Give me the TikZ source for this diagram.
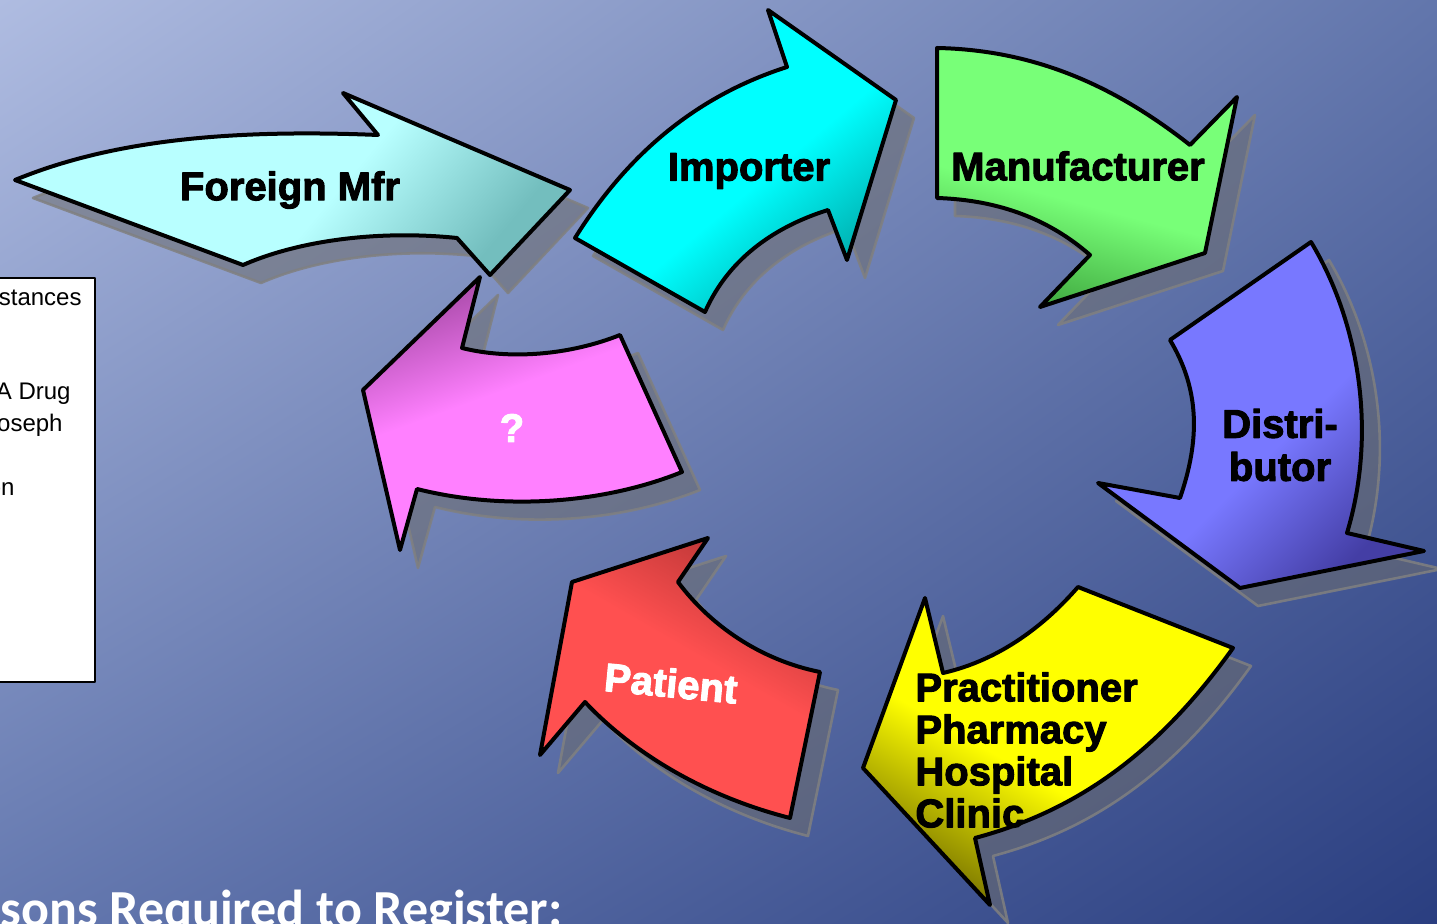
\documentclass[tikz,border=0pt]{standalone}
\usepackage{fontspec}
\setmainfont{Liberation Sans}[BoldFeatures={FakeBold=2.5}]
\newfontfamily\calfont{Carlito}
\usetikzlibrary{shadings}
\definecolor{bgUL}{RGB}{175,188,225}
\definecolor{bgUR}{RGB}{98,118,172}
\definecolor{bgLL}{RGB}{100,120,175}
\definecolor{bgLR}{RGB}{42,62,128}
\definecolor{cLight}{RGB}{255,255,255}
\definecolor{cDark}{RGB}{0,0,0}
\pgfdeclareverticalshading[cLight,cDark]{arrshade}{100bp}{color(0bp)=(cDark); color(25bp)=(cDark); color(45bp)=(cLight); color(100bp)=(cLight)}
\begin{document}
\begin{tikzpicture}[x=0.5pt,y=-0.5pt,line join=round]
\tikzset{
  shadowsty/.style={fill=gray!85!black,fill opacity=0.55,draw=gray,draw opacity=0.85,line width=1.3pt,shift={(18,18)}},
  arrowsty/.style={draw=black,line width=2pt,shading=arrshade},
  lbl/.style={font=\fontsize{20}{21.5}\selectfont\bfseries,inner sep=0pt,text=black},
  boxtxt/.style={font=\fontsize{12}{14}\selectfont,inner sep=0pt,anchor=east,text=black}
}
\newcommand\arrcol[2]{\definecolor{cLight}{RGB}{#1}\definecolor{cDark}{RGB}{#2}}
\newcommand\arrFM[1]{\path[#1] (15,180) .. controls (100,145) and (210,128) .. (378,135) -- (343,93) -- (570,190) -- (490,275) -- (457,238) .. controls (380,230) and (300,240) .. (243,265) -- cycle;}
\newcommand\arrIM[1]{\path[#1] (575,238) .. controls (630,150) and (700,95) .. (787,67) -- (768,10) -- (896,100) -- (847,260) -- (828,210) .. controls (780,225) and (730,255) .. (705,312) -- cycle;}
\newcommand\arrMA[1]{\path[#1] (937,48) .. controls (1040,50) and (1120,90) .. (1190,145) -- (1237,97) -- (1205,253) -- (1040,307) -- (1090,255) .. controls (1050,220) and (1000,200) .. (937,198) -- cycle;}
\newcommand\arrDI[1]{\path[#1] (1311,242) .. controls (1358,320) and (1378,430) .. (1347,533) -- (1424,551) -- (1240,588) -- (1098,483) -- (1180,498) .. controls (1200,440) and (1200,390) .. (1170,340) -- cycle;}
\newcommand\arrPR[1]{\path[#1] (1233,648) .. controls (1160,750) and (1080,810) .. (975,838) -- (990,905) -- (863,768) -- (925,598) -- (943,673) .. controls (1000,660) and (1045,625) .. (1078,587) -- cycle;}
\newcommand\arrPA[1]{\path[#1] (820,672) -- (790,818) .. controls (700,795) and (630,750) .. (585,702) -- (540,755) -- (572,582) -- (708,538) -- (678,582) .. controls (710,625) and (760,660) .. (820,672) -- cycle;}
\newcommand\arrQU[1]{\path[#1] (620,335) .. controls (570,355) and (510,360) .. (462,348) -- (480,277) -- (363,390) -- (400,550) -- (417,489) .. controls (500,510) and (600,505) .. (682,472) -- cycle;}
% background
\shade[upper left=bgUL,upper right=bgUR,lower left=bgLL,lower right=bgLR]
  (0,0) rectangle (1437,924);
\useasboundingbox (0,0) rectangle (1437,924);
% left box
\draw[fill=white,line width=1pt] (-10,278) rectangle (95,682);
\node[boxtxt] (b1) at (82,298) {stances};
\node[boxtxt] (b2) at (71,394) {A Drug};
\node[boxtxt] (b3) at (63,425) {oseph};
\node[boxtxt] (b4) at (15,489) {on};
% shadows
\arrFM{shadowsty}
\arrIM{shadowsty}
\arrMA{shadowsty}
\arrDI{shadowsty}
\arrPR{shadowsty}
\arrPA{shadowsty}
\arrQU{shadowsty}
% arrows
\arrcol{184,255,255}{115,190,190}
\arrFM{arrowsty,shading angle=50}
\arrcol{0,255,255}{0,170,170}
\arrIM{arrowsty,shading angle=40}
\arrcol{120,255,120}{65,170,65}
\arrMA{arrowsty,shading angle=-15}
\arrcol{120,120,255}{68,62,165}
\arrDI{arrowsty,shading angle=45}
\arrcol{255,255,0}{125,120,0}
\arrPR{arrowsty,shading angle=-30}
\arrcol{255,80,80}{190,55,55}
\arrPA{arrowsty,shading angle=150}
\arrcol{255,128,255}{170,75,170}
\arrQU{arrowsty,shading angle=-160}
% labels
\node[lbl] (fm) at (290,190) {Foreign Mfr};
\node[lbl] (im) at (749,171) {Importer};
\node[lbl] (ma) at (1078,166) {Manufacturer};
\node[lbl,align=center] (di) at (1280,445) {Distri-\\butor};
\node[lbl,align=left,anchor=west,font=\fontsize{20}{21}\selectfont\bfseries] (pr) at (915,750) {Practitioner\\Pharmacy\\Hospital\\Clinic};
\node[lbl,text=white,rotate=-5.5] (pa) at (671,683) {Patient};
\node[lbl,text=white] (qu) at (512,428) {?};
\node[font=\calfont\bfseries\fontsize{26}{28}\selectfont,text=white,anchor=base west,inner sep=0pt] (req) at (0,927) {sons Required to Register:};
\end{tikzpicture}
\end{document}
